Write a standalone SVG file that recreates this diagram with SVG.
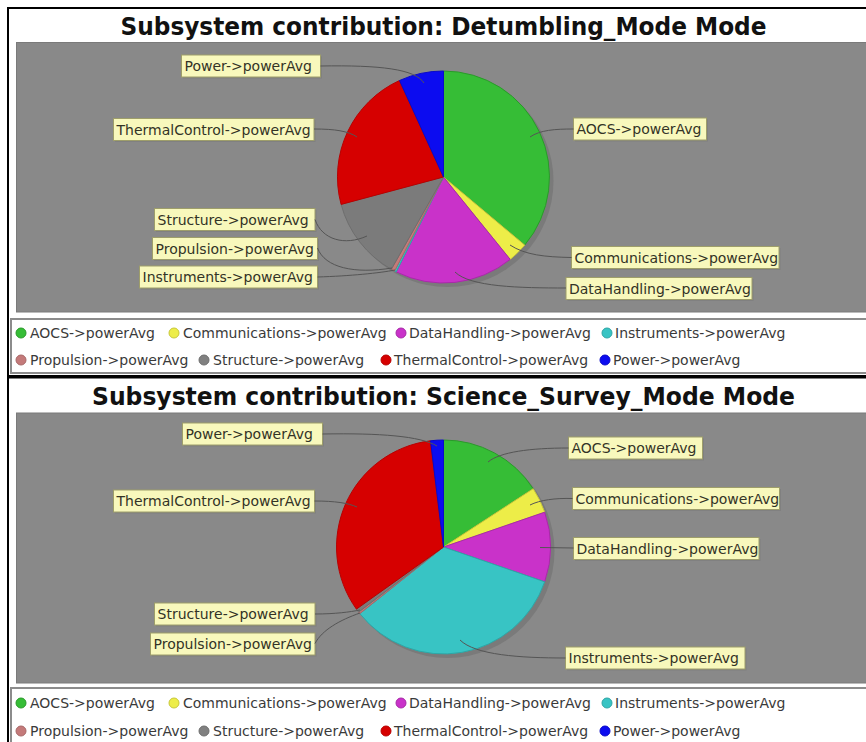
<svg xmlns="http://www.w3.org/2000/svg" width="866" height="742" viewBox="0 0 866 742">
<style>
.frame{fill:#fff;stroke:#000;stroke-width:2}
.plot{fill:#898989;stroke:#7a7a7a;stroke-width:1}
.legbox{fill:#fff;stroke:#8c8c8c;stroke-width:2}
.title{font-family:"DejaVu Sans",sans-serif;font-weight:bold;font-size:25px;fill:#111;text-anchor:middle}
.shadow{fill:#7a7a7a}
.lb{fill:#f8f8bc;stroke:#9e9e6a;stroke-width:1}
.lbs{fill:#808080}
.lt{font-family:"DejaVu Sans",sans-serif;font-size:14px;fill:#333326}
.leg{font-family:"DejaVu Sans",sans-serif;font-size:14px;fill:#3a3a3a}
.conn{fill:none;stroke:#555;stroke-width:1}
.sl{stroke-width:1}
.aocs{fill:#36bd36;stroke:#2a9a2a}
.comm{fill:#eded48;stroke:#c8c83a}
.dh{fill:#c932c9;stroke:#a82aa8}
.ins{fill:#38c4c4;stroke:#2ea6a6}
.prop{fill:#c47a7a;stroke:#a86868}
.str{fill:#7b7b7b;stroke:#6e6e6e}
.thr{fill:#d60000;stroke:#b80000}
.pwr{fill:#0c0cf0;stroke:#0a0ac8}
</style>

<!-- ============ PANEL 1 ============ -->
<g id="panel1">
  <rect class="frame" x="8" y="8" width="870" height="368"/>
  <text class="title" x="443.5" y="35" textLength="646" lengthAdjust="spacingAndGlyphs">Subsystem contribution: Detumbling_Mode Mode</text>
  <rect class="plot" x="16.5" y="42.5" width="860" height="269.5"/>
  <circle class="shadow" cx="447.5" cy="181" r="106"/>
</g>

<g id="p1-aocs">
  <path class="sl aocs" d="M443.5,177 L443.5,71 A106,106 0 0 1 524.7,245.1 Z"/>
  <rect class="lbs" x="575" y="119.5" width="133" height="22"/>
  <rect class="lb" x="573.5" y="118" width="133" height="22"/>
  <text class="lt" x="576.5" y="134">AOCS-&gt;powerAvg</text>
</g>
<g id="p1-comm">
  <path class="sl comm" d="M443.5,177 L524.7,245.1 A106,106 0 0 1 510.2,259.4 Z"/>
  <rect class="lbs" x="573" y="248" width="207.5" height="22"/>
  <rect class="lb" x="571.5" y="246.5" width="207.5" height="22"/>
  <text class="lt" x="574.5" y="262.5">Communications-&gt;powerAvg</text>
</g>
<g id="p1-datahandling">
  <path class="sl dh" d="M443.5,177 L510.2,259.4 A106,106 0 0 1 396.2,271.9 Z"/>
  <rect class="lbs" x="567.5" y="279" width="186" height="22"/>
  <rect class="lb" x="566" y="277.5" width="186" height="22"/>
  <text class="lt" x="569" y="293.5">DataHandling-&gt;powerAvg</text>
</g>
<g id="p1-instruments">
  <path class="sl ins" d="M443.5,177 L396.2,271.9 A106,106 0 0 1 394.6,271 Z"/>
  <rect class="lbs" x="141" y="267.5" width="178" height="22"/>
  <rect class="lb" x="139.5" y="266" width="178" height="22"/>
  <text class="lt" x="142.5" y="282">Instruments-&gt;powerAvg</text>
</g>
<g id="p1-propulsion">
  <path class="sl prop" d="M443.5,177 L394.6,271 A106,106 0 0 1 391.3,269.3 Z"/>
  <rect class="lbs" x="154" y="239" width="165" height="22"/>
  <rect class="lb" x="152.5" y="237.5" width="165" height="22"/>
  <text class="lt" x="155.5" y="253.5">Propulsion-&gt;powerAvg</text>
</g>
<g id="p1-structure">
  <path class="sl str" d="M443.5,177 L391.3,269.3 A106,106 0 0 1 341.1,204.4 Z"/>
  <rect class="lbs" x="156" y="210" width="160.5" height="22"/>
  <rect class="lb" x="154.5" y="208.5" width="160.5" height="22"/>
  <text class="lt" x="157.5" y="224.5">Structure-&gt;powerAvg</text>
</g>
<g id="p1-thermal">
  <path class="sl thr" d="M443.5,177 L341.1,204.4 A106,106 0 0 1 399.5,80.5 Z"/>
  <rect class="lbs" x="115" y="120" width="200.5" height="22"/>
  <rect class="lb" x="113.5" y="118.5" width="200.5" height="22"/>
  <text class="lt" x="116.5" y="134.5">ThermalControl-&gt;powerAvg</text>
</g>
<g id="p1-power">
  <path class="sl pwr" d="M443.5,177 L399.5,80.5 A106,106 0 0 1 443.5,71 Z"/>
  <rect class="lbs" x="183" y="56.5" width="139" height="22"/>
  <rect class="lb" x="181.5" y="55" width="139" height="22"/>
  <text class="lt" x="184.5" y="71">Power-&gt;powerAvg</text>
</g>

<g id="p1-connectors">
  <path class="conn" d="M320.5,66 C380,65 415,69 424,83"/>
  <path class="conn" d="M314,129 C335,129 348,131 357,137"/>
  <path class="conn" d="M315,219.5 C322,240 345,246 367,236"/>
  <path class="conn" d="M317.5,248 C325,268 355,274 392,268"/>
  <path class="conn" d="M317.5,277 C350,276 380,273 395,270"/>
  <path class="conn" d="M573.5,129 C555,129 540,130 530,137"/>
  <path class="conn" d="M571.5,257.5 C545,257 525,255 510,245"/>
  <path class="conn" d="M566,288 C520,288 470,287 455,272"/>
</g>

<g id="p1-legend">
  <rect class="legbox" x="11" y="319" width="862" height="54"/>
  <circle class="aocs" cx="21" cy="333" r="5"/><text class="leg" x="30" y="338">AOCS-&gt;powerAvg</text>
  <circle class="comm" cx="174" cy="333" r="5"/><text class="leg" x="183" y="338">Communications-&gt;powerAvg</text>
  <circle class="dh" cx="401" cy="333" r="5"/><text class="leg" x="409" y="338">DataHandling-&gt;powerAvg</text>
  <circle class="ins" cx="607" cy="333" r="5"/><text class="leg" x="615" y="338">Instruments-&gt;powerAvg</text>
  <circle class="prop" cx="21" cy="360" r="5"/><text class="leg" x="30" y="365">Propulsion-&gt;powerAvg</text>
  <circle class="str" cx="204" cy="360" r="5" style="fill:#808080"/><text class="leg" x="213" y="365">Structure-&gt;powerAvg</text>
  <circle class="thr" cx="386" cy="360" r="5"/><text class="leg" x="394" y="365">ThermalControl-&gt;powerAvg</text>
  <circle class="pwr" cx="605" cy="360" r="5"/><text class="leg" x="613" y="365">Power-&gt;powerAvg</text>
</g>

<!-- ============ PANEL 2 ============ -->
<g id="panel2">
  <rect class="frame" x="8" y="377.5" width="870" height="370"/>
  <text class="title" x="443.5" y="405" textLength="703" lengthAdjust="spacingAndGlyphs">Subsystem contribution: Science_Survey_Mode Mode</text>
  <rect class="plot" x="16.5" y="413" width="860" height="270"/>
  <circle class="shadow" cx="447.5" cy="551" r="107"/>
</g>

<g id="p2-aocs">
  <path class="sl aocs" d="M443.5,547 L443.5,440 A107,107 0 0 1 533.2,488.7 Z"/>
  <rect class="lbs" x="570" y="438.5" width="134" height="22"/>
  <rect class="lb" x="568.5" y="437" width="134" height="22"/>
  <text class="lt" x="571.5" y="453">AOCS-&gt;powerAvg</text>
</g>
<g id="p2-comm">
  <path class="sl comm" d="M443.5,547 L533.2,488.7 A107,107 0 0 1 544.7,512.2 Z"/>
  <rect class="lbs" x="574" y="489" width="207" height="22"/>
  <rect class="lb" x="572.5" y="487.5" width="207" height="22"/>
  <text class="lt" x="575.5" y="503.5">Communications-&gt;powerAvg</text>
</g>
<g id="p2-datahandling">
  <path class="sl dh" d="M443.5,547 L544.7,512.2 A107,107 0 0 1 544.7,581.8 Z"/>
  <rect class="lbs" x="575" y="539" width="185.5" height="22"/>
  <rect class="lb" x="573.5" y="537.5" width="185.5" height="22"/>
  <text class="lt" x="576.5" y="553.5">DataHandling-&gt;powerAvg</text>
</g>
<g id="p2-instruments">
  <path class="sl ins" d="M443.5,547 L544.7,581.8 A107,107 0 0 1 359.8,613.6 Z"/>
  <rect class="lbs" x="567" y="648.5" width="179.5" height="22"/>
  <rect class="lb" x="565.5" y="647" width="179.5" height="22"/>
  <text class="lt" x="568.5" y="663">Instruments-&gt;powerAvg</text>
</g>
<g id="p2-propulsion">
  <path class="sl prop" d="M443.5,547 L359.8,613.6 A107,107 0 0 1 358.6,612.1 Z"/>
  <rect class="lbs" x="152" y="634.5" width="164.5" height="22"/>
  <rect class="lb" x="150.5" y="633" width="164.5" height="22"/>
  <text class="lt" x="153.5" y="649">Propulsion-&gt;powerAvg</text>
</g>
<g id="p2-structure">
  <path class="sl str" d="M443.5,547 L358.6,612.1 A107,107 0 0 1 356.4,609.1 Z"/>
  <rect class="lbs" x="156" y="604.5" width="160.5" height="22"/>
  <rect class="lb" x="154.5" y="603" width="160.5" height="22"/>
  <text class="lt" x="157.5" y="619">Structure-&gt;powerAvg</text>
</g>
<g id="p2-thermal">
  <path class="sl thr" d="M443.5,547 L356.4,609.1 A107,107 0 0 1 430.5,440.8 Z"/>
  <rect class="lbs" x="115" y="491.5" width="201" height="22"/>
  <rect class="lb" x="113.5" y="490" width="201" height="22"/>
  <text class="lt" x="116.5" y="506">ThermalControl-&gt;powerAvg</text>
</g>
<g id="p2-power">
  <path class="sl pwr" d="M443.5,547 L430.5,440.8 A107,107 0 0 1 443.5,440 Z"/>
  <rect class="lbs" x="184" y="424.5" width="140" height="22"/>
  <rect class="lb" x="182.5" y="423" width="140" height="22"/>
  <text class="lt" x="185.5" y="439">Power-&gt;powerAvg</text>
</g>

<g id="p2-connectors">
  <path class="conn" d="M322.5,434 C380,433 420,436 437,446"/>
  <path class="conn" d="M314.5,501 C335,501 348,503 357,507"/>
  <path class="conn" d="M315,614 C335,614 350,612 360,610"/>
  <path class="conn" d="M315,643.5 C322,630 340,620 360,613"/>
  <path class="conn" d="M568.5,448 C530,448 500,452 488,462"/>
  <path class="conn" d="M572.5,498.5 C555,498 540,500 530,505"/>
  <path class="conn" d="M573.5,548 L540,547.5"/>
  <path class="conn" d="M565.5,658 C520,658 475,655 460,640"/>
</g>

<g id="p2-legend">
  <rect class="legbox" x="11" y="688" width="862" height="60"/>
  <circle class="aocs" cx="21" cy="703" r="5"/><text class="leg" x="30" y="708">AOCS-&gt;powerAvg</text>
  <circle class="comm" cx="174" cy="703" r="5"/><text class="leg" x="183" y="708">Communications-&gt;powerAvg</text>
  <circle class="dh" cx="401" cy="703" r="5"/><text class="leg" x="409" y="708">DataHandling-&gt;powerAvg</text>
  <circle class="ins" cx="607" cy="703" r="5"/><text class="leg" x="615" y="708">Instruments-&gt;powerAvg</text>
  <circle class="prop" cx="21" cy="731" r="5"/><text class="leg" x="30" y="736">Propulsion-&gt;powerAvg</text>
  <circle class="str" cx="204" cy="731" r="5" style="fill:#808080"/><text class="leg" x="213" y="736">Structure-&gt;powerAvg</text>
  <circle class="thr" cx="386" cy="731" r="5"/><text class="leg" x="394" y="736">ThermalControl-&gt;powerAvg</text>
  <circle class="pwr" cx="605" cy="731" r="5"/><text class="leg" x="613" y="736">Power-&gt;powerAvg</text>
</g>
</svg>
